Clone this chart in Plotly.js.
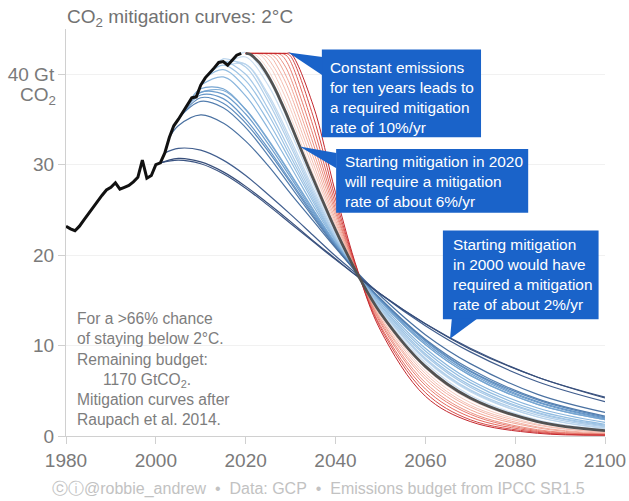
<!DOCTYPE html>
<html>
<head>
<meta charset="utf-8">
<script src="https://cdn.plot.ly/plotly-3.0.1.min.js"></script>
<style>
  html, body { margin: 0; padding: 0; background: #fff; }
  #chart { width: 629px; height: 501px; }
</style>
</head>
<body>
<div id="chart"></div>
<script>
// Global CO2 emissions (fossil + land use), GtCO2 per year
const histYears = [1980,1981,1982,1983,1984,1985,1986,1987,1988,1989,
                   1990,1991,1992,1993,1994,1995,1996,1997,1998,1999,
                   2000,2001,2002,2003,2004,2005,2006,2007,2008,2009,
                   2010,2011,2012,2013,2014,2015,2016,2017,2018,2019];
const histValues = [23.2,22.9,22.7,23.2,23.9,24.6,25.2,25.9,26.6,27.2,
                    27.5,28.0,27.3,27.5,27.7,28.1,28.6,30.5,28.5,28.8,
                    30.0,30.2,31.3,33.0,34.3,35.0,35.8,36.6,37.4,37.5,
                    38.8,39.6,40.1,40.7,41.3,41.4,41.0,41.5,42.1,42.3];

// Mitigation curves that leave the observed path in a given start year
const blueStartYears = [2000,2001,2002,2003,2004,2005,2006,2007,2008,2009,
                        2010,2011,2012,2013,2014,2015,2016,2017,2018,2019];
const blueGridYears = [2005,2010,2015,2020,2025,2030,2035,2040,2045,2050,2060,2070,2085,2100];
const blueValues = [
  [30.7,30.3,29.2,27.6,25.7,23.7,21.6,19.6,17.6,15.7,12.4,9.6,6.5,4.2],
  [30.5,30.1,29.0,27.4,25.5,23.5,21.5,19.5,17.6,15.7,12.4,9.7,6.5,4.3],
  [31.8,31.6,30.5,28.8,26.7,24.5,22.2,19.9,17.8,15.7,12.2,9.3,6.0,3.8],
  [34.3,35.5,34.6,32.6,29.9,26.8,23.8,20.8,18.0,15.5,11.2,8.0,4.6,2.6],
  [35.1,37.0,36.3,34.1,31.0,27.6,24.2,20.9,17.9,15.2,10.7,7.4,4.1,2.2],
  [null,37.4,36.8,34.6,31.5,28.0,24.4,21.0,17.9,15.1,10.6,7.2,4.0,2.1],
  [null,37.7,37.3,35.0,31.8,28.2,24.6,21.1,17.9,15.1,10.5,7.1,3.8,2.0],
  [null,38.0,37.8,35.6,32.3,28.6,24.8,21.2,17.9,15.0,10.3,6.9,3.7,1.9],
  [null,38.4,38.4,36.1,32.7,28.9,25.0,21.3,17.9,14.9,10.1,6.7,3.5,1.8],
  [null,38.0,38.2,36.1,32.8,29.0,25.1,21.3,18.0,15.0,10.1,6.7,3.5,1.8],
  [null,null,39.7,37.6,34.0,29.8,25.5,21.5,17.8,14.7,9.7,6.2,3.1,1.5],
  [null,null,40.5,38.5,34.8,30.4,25.9,21.6,17.8,14.5,9.4,5.9,2.8,1.3],
  [null,null,41.0,39.3,35.6,30.9,26.2,21.7,17.8,14.4,9.1,5.6,2.6,1.2],
  [null,null,41.4,40.0,36.2,31.4,26.5,21.8,17.7,14.2,8.9,5.4,2.5,1.1],
  [null,null,41.7,40.8,37.0,32.0,26.8,22.0,17.7,14.1,8.6,5.1,2.3,1.0],
  [null,null,null,41.1,37.5,32.4,27.1,22.1,17.7,14.0,8.5,5.0,2.1,0.9],
  [null,null,null,41.1,37.8,32.8,27.4,22.3,17.8,14.0,8.4,4.9,2.1,0.8],
  [null,null,null,41.9,38.8,33.6,27.9,22.5,17.8,13.8,8.1,4.5,1.8,0.7],
  [null,null,null,42.4,39.5,34.2,28.3,22.7,17.7,13.7,7.8,4.3,1.7,0.6],
  [null,null,null,42.4,39.9,34.6,28.5,22.8,17.7,13.6,7.7,4.2,1.6,0.6]
];

// Mitigation from 2020, and emissions held constant for 1-10 years before mitigating
const holdGridYears = [2020,2021,2022,2023,2024,2025,2026,2027,2028,2029,2030,
                       2035,2040,2045,2050,2060,2070,2085,2100];
const start2020Values = [42.3,42.2,41.8,41.3,40.6,39.8,38.9,37.9,36.8,35.7,34.5,
                         28.5,22.8,17.8,13.6,7.7,4.2,1.6,0.6];
const holdYears = [1,2,3,4,5,6,7,8,9,10];
const holdValues = [
  [42.3,42.3,42.2,41.8,41.2,40.5,39.6,38.7,37.6,36.5,35.3,29.0,23.0,17.8,13.5,7.5,4.0,1.5,0.5],
  [42.3,42.3,42.3,42.2,41.8,41.1,40.4,39.4,38.4,37.3,36.1,29.6,23.3,17.8,13.4,7.2,3.7,1.3,0.4],
  [42.3,42.3,42.3,42.3,42.1,41.7,41.0,40.2,39.2,38.1,36.9,30.2,23.6,17.9,13.2,6.9,3.4,1.2,0.4],
  [42.3,42.3,42.3,42.3,42.3,42.1,41.7,40.9,40.0,39.0,37.8,30.9,23.9,17.9,13.0,6.6,3.2,1.0,0.3],
  [42.3,42.3,42.3,42.3,42.3,42.3,42.1,41.6,40.8,39.8,38.7,31.6,24.3,17.9,12.9,6.3,2.9,0.9,0.2],
  [42.3,42.3,42.3,42.3,42.3,42.3,42.3,42.1,41.5,40.7,39.6,32.4,24.7,18.0,12.7,5.9,2.6,0.7,0.2],
  [42.3,42.3,42.3,42.3,42.3,42.3,42.3,42.3,42.1,41.5,40.5,33.3,25.1,18.0,12.5,5.6,2.4,0.6,0.2],
  [42.3,42.3,42.3,42.3,42.3,42.3,42.3,42.3,42.3,42.1,41.4,34.3,25.6,18.1,12.2,5.2,2.1,0.5,0.1],
  [42.3,42.3,42.3,42.3,42.3,42.3,42.3,42.3,42.3,42.3,42.0,35.4,26.2,18.1,12.0,4.8,1.8,0.4,0.1],
  [42.3,42.3,42.3,42.3,42.3,42.3,42.3,42.3,42.3,42.3,42.3,36.6,26.9,18.2,11.7,4.4,1.6,0.3,0.1]
];

const xTicks = [1980, 2000, 2020, 2040, 2060, 2080, 2100];
const yTicks = [0, 10, 20, 30, 40];
const yTickText = ['0', '10', '20', '30', '40 Gt'];

// colour ramps: [position, r, g, b]
const blueStops = [[0,55,78,122],[0.1,64,92,140],[0.16,74,114,162],[0.3,98,148,198],
                   [0.55,142,186,223],[0.8,187,213,237],[1,220,233,246]];
const redStops = [[0,249,216,206],[0.45,241,164,148],[0.8,226,98,88],[1,196,40,46]];

function ramp(stops, t) {
  for (let i = 1; i < stops.length; i++) {
    if (t <= stops[i][0]) {
      const a = stops[i - 1], b = stops[i];
      const f = (t - a[0]) / (b[0] - a[0]);
      const c = [1, 2, 3].map(k => Math.round(a[k] + (b[k] - a[k]) * f));
      return 'rgb(' + c.join(',') + ')';
    }
  }
  const l = stops[stops.length - 1];
  return 'rgb(' + l[1] + ',' + l[2] + ',' + l[3] + ')';
}

const traces = [];

// blue pathways, lightest first so the darker ones sit on top
for (let i = blueStartYears.length - 1; i >= 0; i--) {
  const s = blueStartYears[i];
  const xs = [s], ys = [histValues[histYears.indexOf(s)]];
  blueGridYears.forEach((yr, j) => {
    if (yr > s && blueValues[i][j] !== null) { xs.push(yr); ys.push(blueValues[i][j]); }
  });
  traces.push({
    x: xs, y: ys, type: 'scatter', mode: 'lines', hoverinfo: 'skip',
    line: { color: ramp(blueStops, i / (blueStartYears.length - 1)), width: 1.2, shape: 'spline', smoothing: 1 }
  });
}

// delayed-start pathways
holdYears.forEach((n, i) => {
  traces.push({
    x: holdGridYears, y: holdValues[i], type: 'scatter', mode: 'lines', hoverinfo: 'skip',
    line: { color: ramp(redStops, i / (holdYears.length - 1)), width: 1.0, shape: 'spline', smoothing: 1 }
  });
});

// mitigation starting in 2020
traces.push({
  x: holdGridYears, y: start2020Values, type: 'scatter', mode: 'lines', hoverinfo: 'skip',
  line: { color: '#525252', width: 2.8, shape: 'spline', smoothing: 1 }
});

// observed emissions
traces.push({
  x: histYears, y: histValues, type: 'scatter', mode: 'lines', hoverinfo: 'skip',
  line: { color: '#111111', width: 3 }
});

const boxBlue = '#1a63c9';
const txtFont = 'Liberation Sans, Arial, Helvetica, sans-serif';

const layout = {
  width: 629, height: 501,
  margin: { l: 66, r: 24.3, t: 29.4, b: 65, pad: 0 },
  paper_bgcolor: '#ffffff', plot_bgcolor: '#ffffff',
  showlegend: false,
  font: { family: txtFont, color: '#7a7a7a' },
  title: {
    text: 'CO<sub>2</sub> mitigation curves: 2°C',
    xref: 'container', yref: 'container',
    x: 67 / 629, xanchor: 'left', y: 1 - 16 / 501, yanchor: 'middle',
    font: { family: txtFont, size: 19, color: '#727272' }
  },
  xaxis: {
    range: [1980, 2100], tickmode: 'array', tickvals: xTicks,
    showgrid: false, zeroline: false, showline: true, linecolor: '#d0d0d0', linewidth: 1,
    ticks: 'outside', ticklen: 7, tickcolor: '#d0d0d0', tickwidth: 1,
    tickfont: { family: txtFont, size: 19, color: '#7a7a7a' }, fixedrange: true
  },
  yaxis: {
    range: [0, 45], tickmode: 'array', tickvals: yTicks, ticktext: yTickText,
    showgrid: true, gridcolor: '#f1f1f1', gridwidth: 1, zeroline: false,
    showline: true, linecolor: '#d0d0d0', linewidth: 1,
    ticks: 'outside', ticklen: 7, tickcolor: '#d0d0d0', tickwidth: 1,
    tickfont: { family: txtFont, size: 19, color: '#7a7a7a' }, fixedrange: true
  },
  shapes: [
    // callout: constant emissions
    { type: 'rect', xref: 'x', yref: 'y', x0: 2036.96, x1: 2072.4, y0: 33.02, y1: 42.72,
      fillcolor: boxBlue, line: { width: 0 }, layer: 'above' },
    { type: 'path', xref: 'x', yref: 'y', path: 'M 2029.5,42.4 L 2037.1,41.9 L 2037.1,39.9 Z',
      fillcolor: boxBlue, line: { width: 0 }, layer: 'above' },
    // callout: start in 2020
    { type: 'rect', xref: 'x', yref: 'y', x0: 2040.14, x1: 2082.9, y0: 24.68, y1: 31.73,
      fillcolor: boxBlue, line: { width: 0 }, layer: 'above' },
    { type: 'path', xref: 'x', yref: 'y', path: 'M 2032.0,32.0 L 2040.2,31.3 L 2040.2,29.6 Z',
      fillcolor: boxBlue, line: { width: 0 }, layer: 'above' },
    // callout: start in 2000
    { type: 'rect', xref: 'x', yref: 'y', x0: 2063.91, x1: 2098.57, y0: 12.92, y1: 22.72,
      fillcolor: boxBlue, line: { width: 0 }, layer: 'above' },
    { type: 'path', xref: 'x', yref: 'y', path: 'M 2065.5,10.75 L 2065.9,13.0 L 2071.6,13.0 Z',
      fillcolor: boxBlue, line: { width: 0 }, layer: 'above' }
  ],
  annotations: [
    { xref: 'x', yref: 'y', x: 2038.6, y: 37.42, xanchor: 'left', yanchor: 'middle', align: 'left',
      showarrow: false, borderpad: 0,
      text: 'Constant emissions<br>for ten years leads to<br>a required mitigation<br>rate of 10%/yr',
      font: { family: txtFont, size: 15.4, color: '#ffffff' } },
    { xref: 'x', yref: 'y', x: 2041.7, y: 28.14, xanchor: 'left', yanchor: 'middle', align: 'left',
      showarrow: false, borderpad: 0,
      text: 'Starting mitigation in 2020<br>will require a mitigation<br>rate of about 6%/yr',
      font: { family: txtFont, size: 15.4, color: '#ffffff' } },
    { xref: 'x', yref: 'y', x: 2065.9, y: 17.91, xanchor: 'left', yanchor: 'middle', align: 'left',
      showarrow: false, borderpad: 0,
      text: 'Starting mitigation<br>in 2000 would have<br>required a mitigation<br>rate of about 2%/yr',
      font: { family: txtFont, size: 15.4, color: '#ffffff' } },
    { xref: 'x', yref: 'y', x: 1982.23, y: 7.36, xanchor: 'left', yanchor: 'middle', align: 'left',
      showarrow: false, borderpad: 0,
      text: 'For a &gt;66% chance<br>of staying below 2°C.<br>Remaining budget:<br>\u00a0\u00a0\u00a0\u00a0\u00a0\u00a01170 GtCO<sub>2</sub>.<br>Mitigation curves after<br>Raupach et al. 2014.',
      font: { family: txtFont, size: 15.6, color: '#7d7d7d' } },
    // second line of the top y tick label
    { xref: 'paper', yref: 'y', x: 0, y: 40, xanchor: 'right', yanchor: 'middle',
      xshift: -9, yshift: -22, showarrow: false, borderpad: 0,
      text: 'CO<sub>2</sub>', font: { family: txtFont, size: 19, color: '#7a7a7a' } },
    // credit line
    { xref: 'paper', yref: 'paper', x: (318.5 - 66) / 538.7, y: (436 - 489) / 406.6,
      xanchor: 'center', yanchor: 'middle', showarrow: false, borderpad: 0,
      text: 'ⓒⓘ@robbie_andrew\u00a0\u00a0•\u00a0\u00a0Data: GCP\u00a0\u00a0•\u00a0\u00a0Emissions budget from IPCC SR1.5',
      font: { family: txtFont, size: 16, color: '#c2c2c2' } }
  ]
};

Plotly.newPlot('chart', traces, layout, { displayModeBar: false, staticPlot: true });
</script>
</body>
</html>
